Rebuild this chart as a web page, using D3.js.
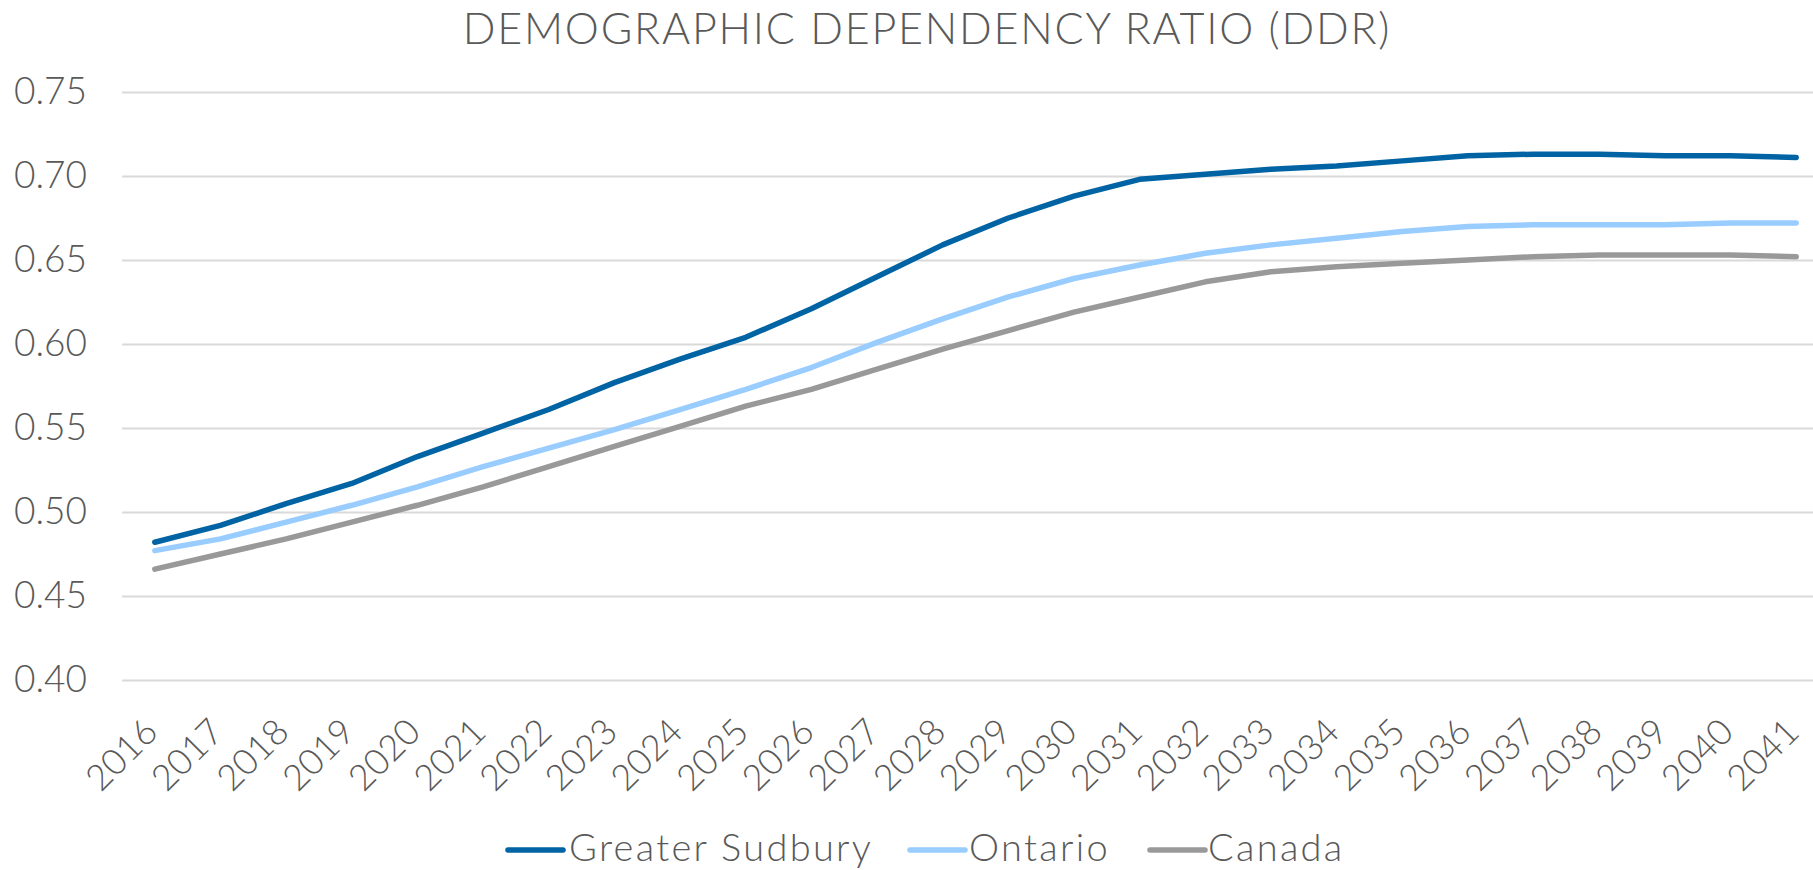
<!DOCTYPE html>
<html>
<head>
<meta charset="utf-8">
<script src="https://cdn.jsdelivr.net/npm/d3@7"></script>
<style>
  html, body { margin: 0; padding: 0; background: #ffffff; overflow: hidden; }
  svg { display: block; }
  text { font-family: "Lato", "Open Sans", sans-serif; font-weight: 300; fill: #595959; }
</style>
</head>
<body>
<svg id="chart" width="1813" height="870"></svg>
<script>
const years = ["2016","2017","2018","2019","2020","2021","2022","2023","2024","2025","2026","2027","2028","2029","2030","2031","2032","2033","2034","2035","2036","2037","2038","2039","2040","2041"];
const sudbury = [0.482,0.492,0.505,0.517,0.533,0.547,0.561,0.577,0.591,0.604,0.621,0.640,0.659,0.675,0.688,0.698,0.701,0.704,0.706,0.709,0.712,0.713,0.713,0.712,0.712,0.711];
const ontario = [0.477,0.484,0.494,0.504,0.515,0.527,0.538,0.549,0.561,0.573,0.586,0.601,0.615,0.628,0.639,0.647,0.654,0.659,0.663,0.667,0.670,0.671,0.671,0.671,0.672,0.672];
const canada  = [0.466,0.475,0.484,0.494,0.504,0.515,0.527,0.539,0.551,0.563,0.573,0.585,0.597,0.608,0.619,0.628,0.637,0.643,0.646,0.648,0.650,0.652,0.653,0.653,0.653,0.652];
const yTicks = [0.40,0.45,0.50,0.55,0.60,0.65,0.70,0.75];
const seriesNames = ["Greater Sudbury","Ontario","Canada"];
const seriesColors = ["#0063A3","#99CCFF","#999999"];
const title = "DEMOGRAPHIC DEPENDENCY RATIO (DDR)";

const series = [sudbury, ontario, canada].map((vals, i) => ({
  name: seriesNames[i], color: seriesColors[i],
  values: vals.map((v, j) => ({ year: years[j], v }))
}));

const svg = d3.select("#chart");
const plotLeft = 122, plotRight = 1829;
const x = d3.scaleBand().domain(years).range([plotLeft, plotRight]);
const xc = d => x(d) + x.bandwidth() / 2;
const y = d3.scaleLinear().domain([0.40, 0.75]).range([680, 92]);

// gridlines + y labels
const yAxis = d3.axisLeft(y).tickValues(yTicks).tickFormat(d3.format(".2f"))
  .tickSize(-(plotRight - plotLeft)).tickPadding(35);
const gy = svg.append("g").attr("transform", `translate(${plotLeft},0)`).call(yAxis);
gy.select(".domain").remove();
gy.selectAll(".tick line").attr("stroke", "#D9D9D9").attr("stroke-width", 2);
gy.selectAll(".tick text").attr("font-size", 37).attr("fill", "#595959")
  .style("font-family", "Lato, 'Open Sans', sans-serif").style("font-weight", 300);

// x axis labels
const xAxis = d3.axisBottom(x).tickSize(0).tickPadding(0);
const gx = svg.append("g").attr("transform", "translate(0,734)").call(xAxis);
gx.select(".domain").remove();
gx.selectAll(".tick text")
  .attr("font-size", 36)
  .attr("fill", "#595959")
  .style("font-family", "Lato, 'Open Sans', sans-serif").style("font-weight", 300)
  .attr("text-anchor", "end")
  .attr("dy", 0)
  .attr("transform", "translate(5,0) rotate(-45)");

// lines
const line = d3.line().x(d => xc(d.year)).y(d => y(d.v));
svg.append("g").selectAll("path").data(series).join("path")
  .attr("d", d => line(d.values))
  .attr("fill", "none")
  .attr("stroke", d => d.color)
  .attr("stroke-width", 5.5)
  .attr("stroke-linecap", "round")
  .attr("stroke-linejoin", "round");

// title
svg.append("text").attr("x", 927).attr("y", 44).attr("text-anchor", "middle")
  .attr("font-size", 43).attr("letter-spacing", 1.8).text(title);

// legend
const legendPos = [{lx: 508, tx: 569}, {lx: 910, tx: 969}, {lx: 1150, tx: 1208}];
const lg = svg.append("g");
series.forEach((s, i) => {
  lg.append("line").attr("x1", legendPos[i].lx).attr("x2", legendPos[i].lx + 55)
    .attr("y1", 850).attr("y2", 850).attr("stroke", s.color).attr("stroke-width", 5.5)
    .attr("stroke-linecap", "round");
  lg.append("text").attr("x", legendPos[i].tx).attr("y", 861).attr("font-size", 38)
    .attr("letter-spacing", 2.3).text(s.name);
});
</script>
</body>
</html>
